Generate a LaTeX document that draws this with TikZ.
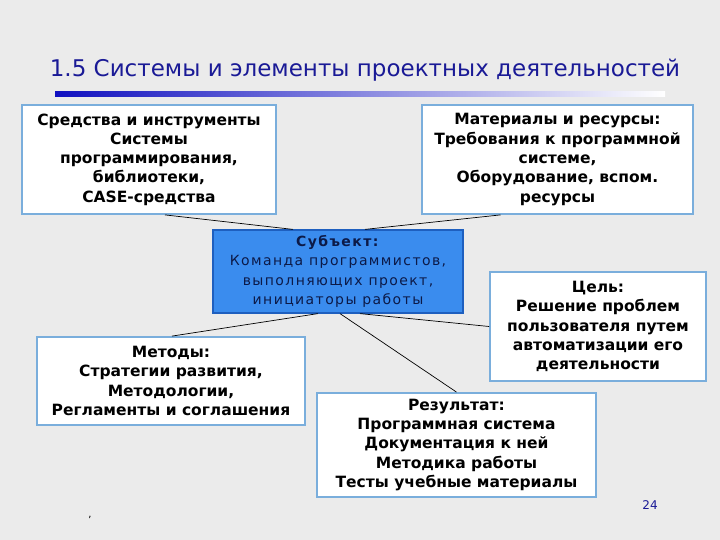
\documentclass[tikz,border=0pt]{standalone}
\usepackage{fontspec}
\setmainfont{DejaVu Sans}
\newfontfamily\subjfont[LetterSpace=10]{DejaVu Sans}
\usetikzlibrary{calc}
\definecolor{bg}{HTML}{EBEBEB}
\definecolor{boxborder}{HTML}{7AAEDC}
\definecolor{subjfill}{HTML}{3A8CEE}
\definecolor{subjborder}{HTML}{1E5FBF}
\definecolor{navy}{HTML}{1A1A96}
\definecolor{subjtext}{HTML}{0C1A48}
\begin{document}
\begin{tikzpicture}[x=1pt,y=-1pt,
  box/.style={draw=boxborder, line width=1.8pt, fill=white, inner sep=0pt, align=center,
    font=\fontsize{15.5}{19.3}\selectfont\bfseries},
  subjbox/.style={draw=subjborder, line width=1.2pt, fill=subjfill, inner sep=0pt, align=center,
    text=subjtext, font=\subjfont\fontsize{14}{19.3}\selectfont},
  conn/.style={draw=black, line width=0.7pt}]
\fill[bg] (0,0) rectangle (720,540);
\useasboundingbox (0,0) rectangle (720,540);

% title
\node[text=navy, font=\fontsize{23}{28}\selectfont, inner sep=0pt] (title) at (365,70) {1.5 Системы и элементы проектных деятельностей};
\shade[left color=navy!60!blue, right color=white] (55,92) rectangle (665,97);

\node[box, minimum width=254pt, minimum height=109pt] (sred) at (149,159.5)
  {Средства и инструменты\\Системы\\программирования,\\библиотеки,\\CASE-средства};
\node[box, minimum width=271pt, minimum height=109pt] (mat) at (557.5,159.5)
  {Материалы и ресурсы:\\Требования к программной\\системе,\\Оборудование, вспом.\\ресурсы};
\node[subjbox, minimum width=250pt, minimum height=83pt] (subj) at (338,271.5)
  {\textbf{Субъект:}\\Команда программистов,\\выполняющих проект,\\инициаторы работы};
\node[box, minimum width=216pt, minimum height=109pt] (cel) at (598,326.5)
  {Цель:\\Решение проблем\\пользователя путем\\автоматизации его\\деятельности};
\node[box, minimum width=268pt, minimum height=88pt] (met) at (171,381)
  {Методы:\\Стратегии развития,\\Методологии,\\Регламенты и соглашения};
\node[box, minimum width=279pt, minimum height=104pt] (rez) at (456.5,445)
  {Результат:\\Программная система\\Документация к ней\\Методика работы\\Тесты учебные материалы};

\draw[conn] ([xshift=16pt]sred.south) -- ([xshift=-45pt]subj.north);
\draw[conn] ([xshift=-57pt]mat.south) -- ([xshift=27pt]subj.north);
\draw[conn] ([xshift=-20pt]subj.south) -- ([xshift=1pt]met.north);
\draw[conn] ([xshift=22pt]subj.south) -- (cel.west);
\draw[conn] ([xshift=2pt]subj.south) -- (rez.north);

\node[text=navy, font=\fontsize{12}{14}\selectfont, inner sep=0pt] (page) at (650,505) {24};
\node[font=\fontsize{10}{12}\selectfont, inner sep=0pt] (comma) at (90,517) {,};
\end{tikzpicture}
\end{document}
